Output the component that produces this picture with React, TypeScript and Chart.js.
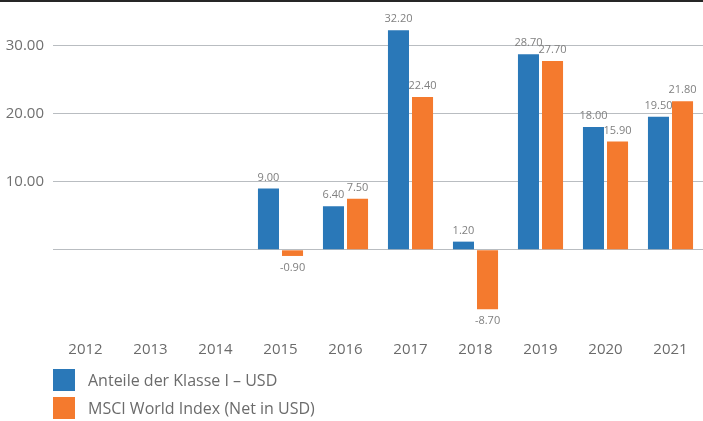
import React, { useEffect, useRef } from 'react';
import { Chart, registerables } from 'chart.js';
Chart.register(...registerables);

const categories = ['2012', '2013', '2014', '2015', '2016', '2017', '2018', '2019', '2020', '2021'];
const seriesNames = ['Anteile der Klasse I – USD', 'MSCI World Index (Net in USD)'];
const fundValues = [null, null, null, 9.0, 6.4, 32.2, 1.2, 28.7, 18.0, 19.5];
const indexValues = [null, null, null, -0.9, 7.5, 22.4, -8.7, 27.7, 15.9, 21.8];
const yTicks = [0, 10, 20, 30];
const colors = ['#2a78b8', '#f47a2e'];

const FONT = '"Open Sans", sans-serif';

const valueLabels = {
  id: 'valueLabels',
  afterDatasetsDraw(chart: any) {
    const ctx = chart.ctx;
    ctx.save();
    ctx.font = '11px ' + FONT;
    ctx.fillStyle = '#808080';
    ctx.textAlign = 'center';
    ctx.textBaseline = 'middle';
    chart.data.datasets.forEach((ds: any, i: number) => {
      const meta = chart.getDatasetMeta(i);
      meta.data.forEach((bar: any, j: number) => {
        const v = ds.data[j];
        if (v == null) return;
        const y = v >= 0 ? bar.y - 11 : bar.y + 12;
        ctx.fillText(v.toFixed(2), bar.x, y);
      });
    });
    ctx.restore();
  },
};

export default function App() {
  const ref = useRef<HTMLCanvasElement>(null);
  useEffect(() => {
    const chart = new Chart(ref.current!, {
      type: 'bar',
      data: {
        labels: categories,
        datasets: [
          { label: seriesNames[0], data: fundValues, backgroundColor: colors[0] },
          { label: seriesNames[1], data: indexValues, backgroundColor: colors[1] },
        ],
      },
      options: {
        animation: false,
        responsive: false,
        maintainAspectRatio: false,
        layout: { padding: { top: 4, left: 0, right: 0, bottom: 0 } },
        datasets: { bar: { categoryPercentage: 0.74, barPercentage: 0.875 } },
        plugins: { legend: { display: false }, tooltip: { enabled: false } },
        scales: {
          x: {
            grid: { display: false, drawTicks: false },
            border: { display: false },
            ticks: { color: '#6b6b6b', font: { family: FONT, size: 15 }, padding: 8 },
          },
          y: {
            min: -12.2,
            max: 34,
            afterBuildTicks: (scale: any) => {
              scale.ticks = yTicks.map((v) => ({ value: v }));
            },
            afterFit: (scale: any) => {
              scale.width = 53;
            },
            grid: { color: '#b9bdc1', lineWidth: 1, drawTicks: false },
            border: { display: false },
            ticks: {
              color: '#707070',
              font: { family: FONT, size: 15 },
              padding: 9,
              callback: (v: any) => (Number(v) === 0 ? '' : Number(v).toFixed(2)),
            },
          },
        },
      },
      plugins: [valueLabels],
    });
    return () => chart.destroy();
  }, []);

  return (
    <div style={{ position: 'fixed', left: 0, top: 0, width: 703, height: 421, background: '#fff', fontFamily: FONT }}>
      <canvas ref={ref} width={703} height={367} style={{ position: 'absolute', left: 0, top: 0 }} />
      <div style={{ position: 'absolute', left: 0, top: 0, width: 703, height: 2, background: '#262626' }} />
      <div style={{ position: 'absolute', left: 53, top: 369 }}>
        {seriesNames.map((name, i) => (
          <div key={name} style={{ display: 'flex', alignItems: 'center', height: 22, marginBottom: 6 }}>
            <div style={{ width: 22, height: 22, background: colors[i], marginRight: 13 }} />
            <span style={{ fontSize: 16, color: '#6b6b6b', whiteSpace: 'nowrap' }}>{name}</span>
          </div>
        ))}
      </div>
    </div>
  );
}
